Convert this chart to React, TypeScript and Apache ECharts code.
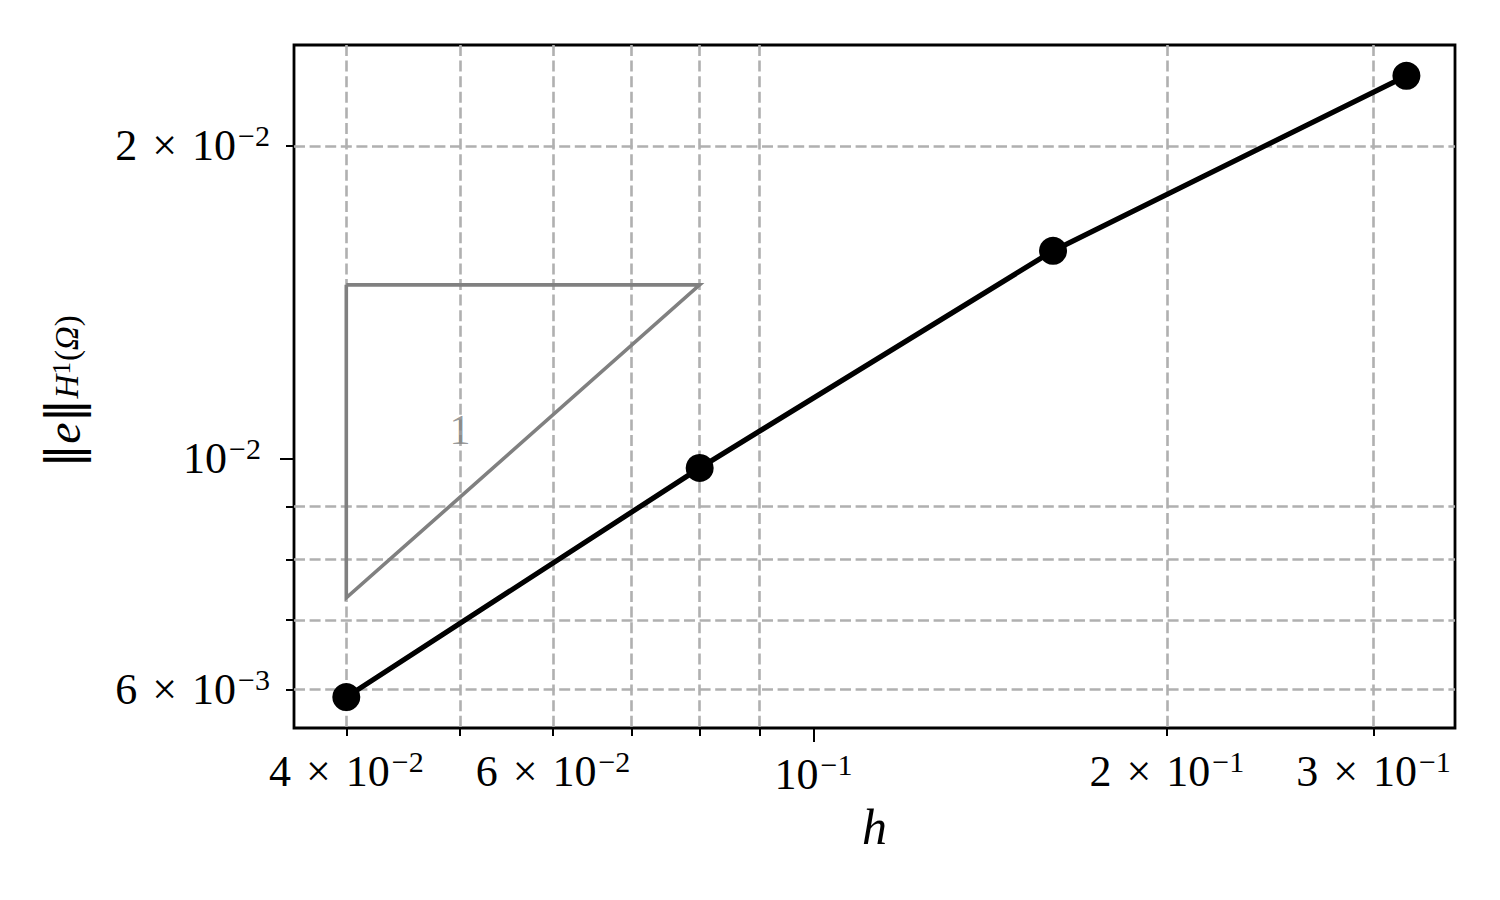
import React, { useEffect, useRef } from "react";
import * as echarts from "echarts";

// ---- data ----
const hValues = [0.04, 0.08, 0.16, 0.32];
const errValues = [0.0059, 0.0098, 0.01585, 0.02335];

const triangleH = [0.04, 0.08, 0.04, 0.04];
const triangleErr = [0.0147, 0.0147, 0.00735, 0.0147];
const slopeLabelPos = [0.05, 0.01066];
const slopeLabel = "1";

const xRange = [0.0361, 0.352];
const yRange = [0.00551, 0.025];

const xMajorTicks = [0.1];
const xMinorTicks = [0.04, 0.05, 0.06, 0.07, 0.08, 0.09, 0.2, 0.3];
const xMinorLabels = [0.04, 0.06, 0.2, 0.3];

const yMajorTicks = [0.01];
const yMinorTicks = [0.006, 0.007, 0.008, 0.009, 0.02];
const yMinorLabels = [0.006, 0.02];

const SERIF = "'Liberation Serif', 'DejaVu Serif', serif";

function sciLabel(v: number): string {
  const e = Math.floor(Math.log10(v) + 1e-9);
  const m = Math.round(v / Math.pow(10, e));
  const exp = "{s|\u2212" + String(-e) + "}";
  if (m === 1) return "{b|10}" + exp;
  return "{b|" + m + "}{x|\u00d7}{b|10}" + exp;
}

const tickRich = {
  b: { fontSize: 44, fontFamily: SERIF, color: "#000" },
  x: { fontSize: 44, fontFamily: SERIF, color: "#000", padding: [0, 15, 0, 15] },
  s: { fontSize: 30, fontFamily: SERIF, color: "#000", padding: [0, 0, 20, 2] },
};

const gridDash = {
  show: true,
  lineStyle: { color: "#b0b0b0", width: 2.6, type: [11, 4.6] },
};

export default function App() {
  const ref = useRef<HTMLDivElement>(null);
  useEffect(() => {
    document.body.style.margin = "0";
    const chart = echarts.init(ref.current!, null, { renderer: "svg" });
    const option: any = {
      animation: false,
      backgroundColor: "#fff",
      grid: {
        show: true,
        left: 294,
        right: 45,
        top: 45,
        bottom: 172,
        borderColor: "#000",
        borderWidth: 2.8,
        backgroundColor: "transparent",
        containLabel: false,
      },
      xAxis: [
        {
          type: "log",
          logBase: 10,
          min: xRange[0],
          max: xRange[1],
          position: "bottom",
          axisLine: { show: false },
          axisTick: { show: true, length: 14, lineStyle: { color: "#000", width: 2 }, customValues: xMajorTicks },
          axisLabel: { show: true, customValues: xMajorTicks, margin: 21, formatter: (v: number) => sciLabel(v), rich: tickRich },
          splitLine: { show: false },
          minorTick: { show: false },
          name: "h",
          nameLocation: "middle",
          nameGap: 74,
          nameTextStyle: { fontFamily: SERIF, fontStyle: "italic", fontSize: 50, color: "#000" },
        },
        {
          type: "log",
          logBase: 10,
          min: xRange[0],
          max: xRange[1],
          position: "bottom",
          offset: 0,
          axisLine: { show: false },
          axisTick: { show: true, length: 8, lineStyle: { color: "#000", width: 2 }, customValues: xMinorTicks },
          axisLabel: { show: true, customValues: xMinorLabels, margin: 18, formatter: (v: number) => sciLabel(v), rich: tickRich },
          splitLine: gridDash,
          minorTick: { show: false },
        },
      ],
      yAxis: [
        {
          type: "log",
          logBase: 10,
          min: yRange[0],
          max: yRange[1],
          position: "left",
          axisLine: { show: false },
          axisTick: { show: true, length: 14, lineStyle: { color: "#000", width: 2 }, customValues: yMajorTicks },
          axisLabel: { show: true, customValues: yMajorTicks, margin: 33, formatter: (v: number) => sciLabel(v), rich: tickRich },
          splitLine: { show: false },
          name:
            "{n|\u2016}{i|e}{n|\u2016}{si|H}{ss|1}{sn|(}{si|\u03a9}{sn|)}{pad| }",
          nameLocation: "middle",
          nameRotate: 90,
          nameGap: 207,
          nameTextStyle: {
            rich: {
              n: { fontSize: 48, fontFamily: "'DejaVu Sans', sans-serif", color: "#000" },
              i: { fontSize: 48, fontFamily: SERIF, fontStyle: "italic", color: "#000" },
              si: { fontSize: 33, fontFamily: SERIF, fontStyle: "italic", color: "#000", padding: [8, 0, 0, 0] },
              sn: { fontSize: 33, fontFamily: SERIF, color: "#000", padding: [8, 0, 0, 0] },
              ss: { fontSize: 25, fontFamily: SERIF, color: "#000", padding: [0, 1, 3, 0] },
              pad: { fontSize: 10, width: 10 },
            },
          },
        },
        {
          type: "log",
          logBase: 10,
          min: yRange[0],
          max: yRange[1],
          position: "left",
          offset: 0,
          axisLine: { show: false },
          axisTick: { show: true, length: 8, lineStyle: { color: "#000", width: 2 }, customValues: yMinorTicks },
          axisLabel: { show: true, customValues: yMinorLabels, margin: 24, formatter: (v: number) => sciLabel(v), rich: tickRich },
          splitLine: gridDash,
        },
      ],
      series: [
        {
          type: "line",
          xAxisIndex: 0,
          yAxisIndex: 0,
          data: triangleH.map((h, i) => [h, triangleErr[i]]),
          showSymbol: false,
          symbol: "none",
          lineStyle: { color: "#808080", width: 3.6, join: "miter" },
          z: 3,
        },
        {
          type: "scatter",
          xAxisIndex: 0,
          yAxisIndex: 0,
          data: [slopeLabelPos],
          symbolSize: 0,
          label: {
            show: true,
            position: "inside",
            formatter: slopeLabel,
            fontFamily: SERIF,
            fontSize: 42,
            color: "#808080",
          },
          z: 3,
        },
        {
          type: "line",
          xAxisIndex: 0,
          yAxisIndex: 0,
          data: hValues.map((h, i) => [h, errValues[i]]),
          symbol: "circle",
          symbolSize: 28,
          showAllSymbol: true,
          itemStyle: { color: "#000" },
          lineStyle: { color: "#000", width: 5.2 },
          z: 4,
        },
      ],
    };
    chart.setOption(option);
    return () => chart.dispose();
  }, []);
  return <div ref={ref} style={{ position: "absolute", left: 0, top: 0, width: 1500, height: 900 }} />;
}
